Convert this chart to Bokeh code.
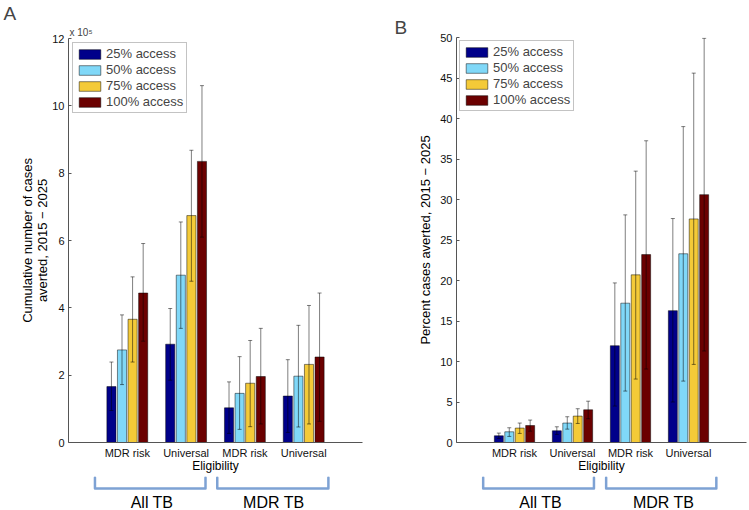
from bokeh.plotting import figure
from bokeh.models import (ColumnDataSource, Legend, LegendItem, FixedTicker,
                          Whisker, TeeHead, Range1d, Title)
from bokeh.layouts import row, column
from bokeh.embed import file_html
from bokeh.resources import INLINE
from bokeh.core.properties import value

FONT = "Liberation Sans"

# ---------------- data ----------------
eligibility = ["MDR risk", "Universal", "MDR risk", "Universal"]
group_pos = [1, 2, 3, 4]
access_levels = ["25% access", "50% access", "75% access", "100% access"]
colors = ["#00008a", "#80d8f8", "#f4ca38", "#6b0000"]
populations = ["All TB", "MDR TB"]

# Panel A: cumulative number of cases averted, 2015-2025 (x 10^5)
a_25 = [1.66, 2.92, 1.03, 1.38]
a_50 = [2.75, 4.97, 1.46, 1.97]
a_75 = [3.66, 6.74, 1.76, 2.32]
a_100 = [4.44, 8.35, 1.96, 2.54]
a_25_lo = [0.95, 1.85, 0.27, 0.30]
a_50_lo = [1.72, 3.39, 0.39, 0.46]
a_75_lo = [2.39, 4.79, 0.47, 0.55]
a_100_lo = [3.01, 6.10, 0.55, 0.63]
a_25_hi = [2.39, 3.98, 1.80, 2.46]
a_50_hi = [3.79, 6.55, 2.55, 3.48]
a_75_hi = [4.92, 8.68, 3.03, 4.07]
a_100_hi = [5.91, 10.60, 3.39, 4.44]
a_ticks = [0, 2, 4, 6, 8, 10, 12]

# Panel B: percent cases averted, 2015-2025
b_25 = [0.83, 1.45, 11.95, 16.28]
b_50 = [1.32, 2.40, 17.2, 23.3]
b_75 = [1.78, 3.26, 20.7, 27.6]
b_100 = [2.10, 4.04, 23.2, 30.6]
b_25_lo = [0.50, 1.00, 4.50, 5.00]
b_50_lo = [0.75, 1.65, 6.35, 7.58]
b_75_lo = [1.12, 2.35, 7.83, 9.64]
b_100_lo = [1.40, 2.93, 9.07, 11.3]
b_25_hi = [1.16, 1.94, 19.7, 27.65]
b_50_hi = [1.82, 3.18, 28.1, 39.0]
b_75_hi = [2.40, 4.17, 33.5, 45.6]
b_100_hi = [2.77, 5.10, 37.25, 49.9]
b_ticks = [0, 5, 10, 15, 20, 25, 30, 35, 40, 45, 50]

# bracket spans (in eligibility-axis units) and population label positions
a_brackets = [(0.45, 2.33), (2.53, 4.42)]
b_brackets = [(0.46, 2.37), (2.58, 4.48)]
a_pop_x = [1.42, 3.49]
b_pop_x = [1.45, 3.57]

offsets = [-0.27, -0.09, 0.09, 0.27]
bar_width = 0.155
BRACKET = "#7ea2d4"


def style_axes(p, yticks, ylabel, ylabel_standoff):
    p.xaxis.ticker = FixedTicker(ticks=group_pos)
    p.xaxis.major_label_overrides = {g: lab for g, lab in zip(group_pos, eligibility)}
    p.yaxis.ticker = FixedTicker(ticks=yticks)
    for ax in (p.xaxis[0], p.yaxis[0]):
        ax.axis_line_color = "#555555"
        ax.axis_line_width = 1
        ax.major_tick_line_color = "#555555"
        ax.major_tick_out = 0
        ax.minor_tick_line_color = None
        ax.major_label_text_font = FONT
        ax.major_label_text_font_size = "11px"
        ax.major_label_text_color = "#111111"
        ax.axis_label_text_font = FONT
        ax.axis_label_text_font_style = "normal"
        ax.axis_label_text_color = "black"
    p.xaxis.major_tick_in = 0
    p.yaxis.major_tick_in = 3
    p.xaxis.major_label_standoff = 4
    p.yaxis.major_label_standoff = 4
    p.xaxis.axis_label = "Eligibility"
    p.xaxis.axis_label_text_font_size = "12px"
    p.xaxis.axis_label_standoff = -3
    p.yaxis.axis_label = ylabel
    p.yaxis.axis_label_text_font_size = "13px"
    p.yaxis.axis_label_text_line_height = 1.05
    p.yaxis.axis_label_standoff = ylabel_standoff
    p.xgrid.visible = False
    p.ygrid.visible = False
    p.outline_line_color = None


def draw_bars(p, vals, los, his, legend_margin):
    rends = []
    for k in range(4):
        xs = [g + offsets[k] for g in group_pos]
        src = ColumnDataSource(dict(x=xs, top=vals[k], lo=los[k], hi=his[k]))
        r = p.vbar(x="x", top="top", width=bar_width, source=src,
                   fill_color=colors[k], line_color="black", line_width=0.6, line_alpha=0.8)
        rends.append((r, src))
    for r, src in rends:
        w = Whisker(source=src, base="x", lower="lo", upper="hi",
                    line_color="black", line_alpha=0.5, line_width=1,
                    upper_head=TeeHead(size=4, line_color="black", line_alpha=0.5, line_width=1),
                    lower_head=TeeHead(size=4, line_color="black", line_alpha=0.5, line_width=1),
                    level="annotation")
        p.add_layout(w)
    legend = Legend(items=[LegendItem(label=access_levels[k], renderers=[rends[k][0]]) for k in range(4)],
                    location="top_left", margin=legend_margin, padding=3, spacing=1,
                    glyph_width=27, glyph_height=12, label_height=12, label_standoff=3,
                    label_text_font=FONT, label_text_font_size="13px",
                    border_line_color="#888888", border_line_width=1,
                    background_fill_color="white", background_fill_alpha=1)
    p.add_layout(legend)


def add_titles(p, letter, letter_offset, multiplier=None):
    if multiplier is not None:
        p.add_layout(Title(text=multiplier, align="left", offset=1, standoff=2,
                           text_font=FONT, text_font_size="10px", text_font_style="normal",
                           vertical_align="bottom"), "above")
    p.add_layout(Title(text=letter, align="left", offset=letter_offset, standoff=0,
                       text_font=FONT, text_font_size="19px", text_font_style="normal",
                       vertical_align="bottom"), "above")


def bracket_fig(x_range, width, left, right, spans, pop_x):
    q = figure(width=width, height=34, x_range=x_range, y_range=Range1d(0, 34),
               min_border_left=left, min_border_right=right, min_border_top=0, min_border_bottom=0,
               x_axis_type=None, y_axis_type=None, toolbar_location=None, output_backend="svg")
    q.outline_line_color = None
    q.xgrid.visible = False
    q.ygrid.visible = False
    xs = [[a, a, b, b] for a, b in spans]
    ys = [[33, 22, 22, 33] for _ in spans]
    q.multi_line(xs=xs, ys=ys, line_color=BRACKET, line_width=2.5, line_cap="round", line_join="round")
    q.text(x=pop_x, y=[8, 8], text=populations, text_font=value(FONT), text_font_size="16px",
           text_align="center", text_baseline="middle", text_color="black")
    return q


# ---------------- Panel A ----------------
pa = figure(width=390, height=476, x_range=Range1d(0, 5), y_range=Range1d(0, 12),
            min_border_left=68, min_border_right=28, min_border_top=37, min_border_bottom=34,
            toolbar_location=None, output_backend="svg", title=None)
style_axes(pa, a_ticks, "Cumulative number of cases\naverted, 2015 \u2212 2025", -1)
draw_bars(pa, [a_25, a_50, a_75, a_100], [a_25_lo, a_50_lo, a_75_lo, a_100_lo],
          [a_25_hi, a_50_hi, a_75_hi, a_100_hi], 4)
add_titles(pa, "A", -65, "x 10\u2075")
qa = bracket_fig(pa.x_range, 390, 68, 28, a_brackets, a_pop_x)

# ---------------- Panel B ----------------
pb = figure(width=359, height=476, x_range=Range1d(0, 5), y_range=Range1d(0, 50),
            min_border_left=66, min_border_right=3, min_border_top=37, min_border_bottom=34,
            toolbar_location=None, output_backend="svg", title=None)
style_axes(pb, b_ticks, "Percent cases averted, 2015 \u2212 2025", 4)
draw_bars(pb, [b_25, b_50, b_75, b_100], [b_25_lo, b_50_lo, b_75_lo, b_100_lo],
          [b_25_hi, b_50_hi, b_75_hi, b_100_hi], 3)
add_titles(pb, "B", -62)
qb = bracket_fig(pb.x_range, 359, 66, 3, b_brackets, b_pop_x)

layout = row(column(pa, qa, spacing=0), column(pb, qb, spacing=0), spacing=0)
open("out.html", "w").write(file_html(layout, INLINE))
